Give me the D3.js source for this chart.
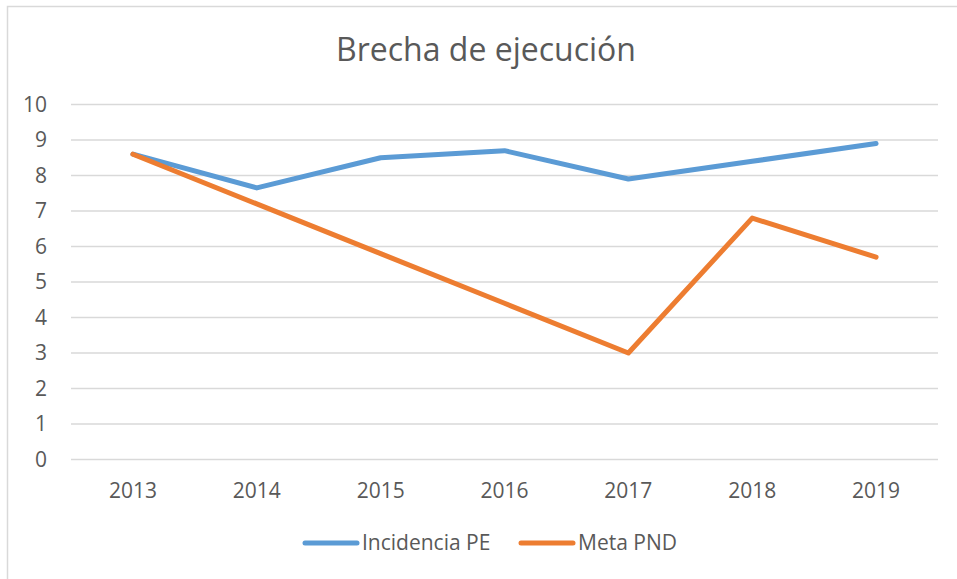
<!DOCTYPE html>
<html>
<head>
<meta charset="utf-8">
<script src="https://d3js.org/d3.v7.min.js"></script>
<style>
  body { margin: 0; background: #fff; }
  svg text { font-family: "Open Sans", sans-serif; fill: #595959; }
</style>
</head>
<body>
<div id="chart"></div>
<script>
// data
var years = ["2013", "2014", "2015", "2016", "2017", "2018", "2019"];
var incidenciaPE = [8.6, 7.65, 8.5, 8.7, 7.9, 8.4, 8.9];
var metaPND = [8.6, 7.2, 5.8, 4.4, 3.0, 6.8, 5.7];
var yTicks = [0, 1, 2, 3, 4, 5, 6, 7, 8, 9, 10];

var series = [
  { name: "Incidencia PE", values: incidenciaPE, color: "#5b9bd5" },
  { name: "Meta PND", values: metaPND, color: "#ed7d31" }
];

var W = 957, H = 579;
var svg = d3.select("#chart").append("svg").attr("width", W).attr("height", H);

// outer chart border
svg.append("rect")
  .attr("x", 7.5).attr("y", 6.5)
  .attr("width", 980).attr("height", 600)
  .attr("fill", "none").attr("stroke", "#d9d9d9").attr("stroke-width", 1.5);

svg.append("text")
  .attr("x", 486).attr("y", 61)
  .attr("text-anchor", "middle")
  .style("font-size", "32px")
  .text("Brecha de ejecución");

var x = d3.scaleBand().domain(years).range([71, 938]);
var y = d3.scaleLinear().domain([0, 10]).range([459.5, 104.5]);

// gridlines
svg.append("g").selectAll("line")
  .data(yTicks)
  .enter().append("line")
  .attr("x1", 71).attr("x2", 938)
  .attr("y1", function (d) { return y(d); })
  .attr("y2", function (d) { return y(d); })
  .attr("stroke", "#d9d9d9").attr("stroke-width", 1.3);

// y labels
svg.append("g").selectAll("text")
  .data(yTicks)
  .enter().append("text")
  .attr("x", 47)
  .attr("y", function (d) { return y(d); })
  .attr("dy", "0.35em")
  .attr("text-anchor", "end")
  .style("font-size", "21px")
  .text(function (d) { return d; });

// x labels
svg.append("g").selectAll("text")
  .data(years)
  .enter().append("text")
  .attr("x", function (d) { return x(d) + x.bandwidth() / 2; })
  .attr("y", 498)
  .attr("text-anchor", "middle")
  .style("font-size", "21px")
  .text(function (d) { return d; });

var line = d3.line()
  .x(function (d, i) { return x(years[i]) + x.bandwidth() / 2; })
  .y(function (d) { return y(d); });

svg.append("g").selectAll("path")
  .data(series)
  .enter().append("path")
  .attr("d", function (s) { return line(s.values); })
  .attr("fill", "none")
  .attr("stroke", function (s) { return s.color; })
  .attr("stroke-width", 5)
  .attr("stroke-linecap", "round")
  .attr("stroke-linejoin", "round");

// legend
var legendX = [305, 521];
var lg = svg.append("g").selectAll("g")
  .data(series)
  .enter().append("g")
  .attr("transform", function (d, i) { return "translate(" + legendX[i] + ",543)"; });
lg.append("line")
  .attr("x1", 0).attr("x2", 52)
  .attr("stroke", function (d) { return d.color; })
  .attr("stroke-width", 5)
  .attr("stroke-linecap", "round");
lg.append("text")
  .attr("x", 57).attr("dy", "0.35em")
  .style("font-size", "21px")
  .text(function (d) { return d.name; });
</script>
</body>
</html>
